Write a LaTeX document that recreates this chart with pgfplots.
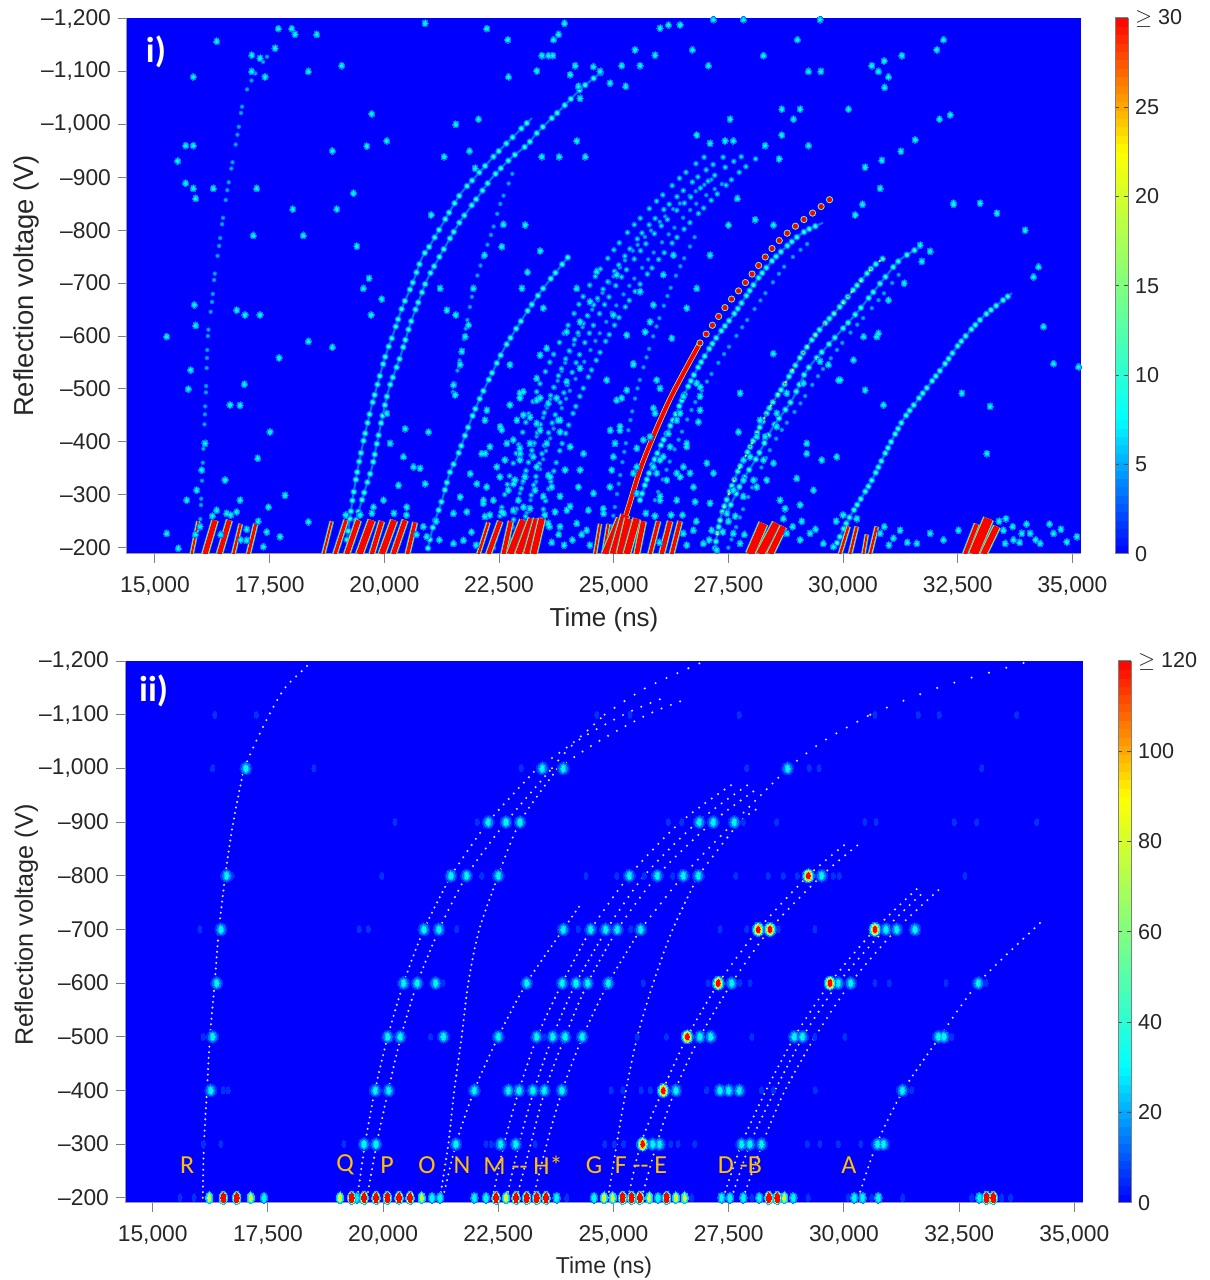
\documentclass[border=0pt]{standalone}
\usepackage{pgfplots}
\usepackage{pgfplotstable}
\usepackage{fontspec}
\setmainfont{Liberation Sans}
\newfontfamily\carl{Carlito}
\pgfplotsset{compat=1.18}
\definecolor{bgblue}{rgb}{0,0,1}
\definecolor{lab}{gray}{0.15}
\definecolor{orangelab}{RGB}{255,192,0}
\definecolor{cA}{RGB}{0,50,255}
\definecolor{cB}{RGB}{0,120,255}
\definecolor{cC}{RGB}{0,190,255}
\definecolor{cD}{RGB}{0,245,235}
\definecolor{cE}{RGB}{110,255,150}
\definecolor{cF}{RGB}{210,255,50}
\definecolor{cG}{RGB}{255,190,0}
\definecolor{cH}{RGB}{255,0,0}
\definecolor{dotw}{RGB}{225,225,242}
\pgfplotsset{
  colormap={refjet}{rgb255(0cm)=(0,0,255) rgb255(1cm)=(0,255,255) rgb255(3cm)=(255,255,0) rgb255(4cm)=(255,0,0)},
  panel/.style={
    scale only axis, y dir=reverse, axis on top=false,
    axis background/.style={fill=bgblue},
    axis x line*=bottom, axis y line*=left,
    axis line style={-,draw=gray!80,line width=0.5pt},
    tick align=outside, major tick length=4.5pt,
    tick style={draw=gray,line width=0.5pt},
    scaled x ticks=false, scaled y ticks=false,
    xtick={15000,17500,20000,22500,25000,27500,30000,32500,35000},
    xticklabels={{15,000},{17,500},{20,000},{22,500},{25,000},{27,500},{30,000},{32,500},{35,000}},
    ytick={-1200,-1100,-1000,-900,-800,-700,-600,-500,-400,-300,-200},
    yticklabels={{--1,200},{--1,100},{--1,000},{--900},{--800},{--700},{--600},{--500},{--400},{--300},{--200}},
    tick label style={font=\fontsize{11.4}{12}\selectfont,text=lab},
    colormap name=refjet, colorbar sampled, 
  },
  cbar/.style={
    scale only axis, width=6.5pt,
    axis line style={draw=gray,line width=0.5pt},
    tick align=inside, major tick length=2pt,
    tick style={draw=gray!60!black,line width=0.4pt},
    tick label style={font=\fontsize{10.8}{12}\selectfont,text=lab},
    yticklabel pos=right,
    samples=65
  },
  wd/.style={smooth,line cap=round,line width=1.15pt,color=dotw,dash pattern=on 0pt off #1},
  ch/.style n args={3}{smooth,line cap=round,line width=#2,color=#1,#3},
  patA/.style={dash pattern=on 0pt off 4.4pt on 0pt off 6.2pt on 0pt off 3.8pt on 0pt off 5.4pt},
  patB/.style={dash pattern=on 0pt off 4.4pt on 0pt off 6.6pt on 0pt off 5.2pt},
  patC/.style={dash pattern=on 0pt off 4pt on 0pt off 7pt on 0pt off 3.2pt on 0pt off 9pt on 0pt off 5pt},
  patD/.style={dash pattern=on 0pt off 3.4pt on 0pt off 4.4pt on 0pt off 3pt},
  patE/.style={dash pattern=on 0pt off 7pt},
  patF/.style={dash pattern=on 0pt off 9pt},
  patG/.style={dash pattern=on 0pt off 5.4pt},
}
\newcommand{\spot}[4]{\addplot[only marks,color=#4,mark=*,mark size=1pt,line width=0pt,mark options={xscale=#2,yscale=#3,fill=#4,draw=#4,line width=0pt}] table {#1};}
\newcommand{\chainfaint}[2]{%
  \addplot[ch={cB}{2.3pt}{#2}] table {#1};
  \addplot[ch={cC}{1.2pt}{#2}] table {#1};}
\newcommand{\chainweak}[2]{%
  \addplot[ch={cB}{2.9pt}{#2}] table {#1};
  \addplot[ch={cD}{1.6pt}{#2}] table {#1};}
\newcommand{\chainstrong}[2]{%
  \addplot[smooth,line width=1.0pt,color=cB] table {#1};
  \addplot[ch={cB}{3.4pt}{#2}] table {#1};
  \addplot[ch={cD}{2.2pt}{#2}] table {#1};
  \addplot[ch={cE}{1.0pt}{#2}] table {#1};}
\newcommand{\ionbar}[4]{%
  \addplot[line width=#4+1.4pt,color=cC] coordinates {(#1,-188)(#2,#3)};
  \addplot[line width=#4+0.6pt,color=cF] coordinates {(#1,-188)(#2,#3)};
  \addplot[line width=#4,color=cH] coordinates {(#1,-188)(#2,#3)};}

% ---------- panel i ridges (time ns, voltage V)
\pgfplotstableread{
t V
15981 -239
16090 -455
16112 -498
16155 -602
16243 -664
16308 -721
16395 -768
16461 -810
16570 -872
16679 -923
16809 -986
16940 -1050
17136 -1088
17354 -1118
17616 -1146
}\topR
\pgfplotstableread{
t V
19186 -215
19316 -296
19469 -370
19687 -455
20014 -559
20188 -602
20385 -653
20603 -697
20821 -748
20973 -768
21257 -810
21649 -867
22020 -904
22412 -942
22848 -980
23219 -1012
}\topQ
\pgfplotstableread{
t V
19382 -252
19578 -309
19731 -352
19840 -398
20079 -494
20341 -559
20559 -621
20777 -672
20951 -710
21322 -768
21649 -816
22041 -863
22347 -899
22783 -938
23110 -961
23349 -986
23785 -1023
24309 -1069
24745 -1099
}\topP
\pgfplotstableread{
t V
21496 -494
21693 -577
21932 -683
22150 -748
22347 -797
22521 -848
22695 -885
22804 -910
}\topO
\pgfplotstableread{
t V
20951 -199
21060 -239
21257 -290
21431 -343
21584 -371
21802 -422
22041 -474
22347 -530
22630 -579
23066 -640
23437 -687
24003 -749
}\topN
\pgfplotstableread{
t V
22378 -200
22623 -300
22949 -400
23346 -500
23888 -600
24505 -700
25342 -800
26458 -900
27000 -940
}\topM
\pgfplotstableread{
t V
22682 -200
22949 -300
23274 -400
23680 -500
24186 -600
24852 -700
25668 -800
26827 -900
27500 -945
}\topL
\pgfplotstableread{
t V
22800 -250
23100 -350
23480 -450
24000 -560
24600 -660
25400 -760
26300 -840
27200 -900
}\topK
\pgfplotstableread{
t V
23050 -250
23400 -350
23800 -450
24350 -550
25000 -650
25800 -750
26800 -850
27500 -895
}\topJ
\pgfplotstableread{
t V
22899 -200
23203 -300
23513 -400
23947 -500
24440 -600
25082 -700
25950 -800
27152 -900
27800 -940
}\topI
\pgfplotstableread{
t V
23259 -200
23550 -300
23888 -400
24331 -500
24887 -600
25590 -700
26514 -800
27621 -900
28100 -935
}\topH
\pgfplotstableread{
t V
24880 -200
25069 -300
25271 -400
25516 -500
25863 -600
26284 -700
26840 -800
}\topG
\pgfplotstableread{
t V
24963 -196
25181 -239
25355 -286
25573 -347
25856 -409
26271 -489
26881 -587
}\topFa
\pgfplotstableread{
t V
26881 -587
27470 -659
27862 -700
28516 -772
28996 -810
29453 -840
29780 -863
}\topFb
\pgfplotstableread{
t V
25573 -290
25856 -360
26292 -441
26728 -523
27208 -593
27644 -644
28124 -706
28516 -748
28996 -787
29214 -800
29562 -814
}\topE
\pgfplotstableread{
t V
25900 -290
26300 -380
26750 -470
27250 -545
27750 -610
28300 -680
28800 -740
29300 -780
}\topEb
\pgfplotstableread{
t V
27208 -199
27273 -233
27382 -271
27688 -341
27862 -371
28080 -409
28407 -466
28690 -504
29061 -559
29432 -606
29868 -649
30260 -691
30652 -731
30914 -749
}\topD
\pgfplotstableread{
t V
27470 -266
27818 -328
28124 -371
28472 -428
28887 -479
29214 -536
29780 -593
30300 -644
30870 -706
31241 -744
31677 -768
}\topC
\pgfplotstableread{
t V
27500 -200
27950 -300
28500 -400
29050 -470
29500 -530
30100 -600
30700 -660
31250 -720
}\topCb
\pgfplotstableread{
t V
29868 -209
30107 -252
30413 -296
30631 -328
30958 -385
31306 -441
31677 -485
32178 -542
32549 -587
33050 -636
33683 -681
}\topA
% ---------- panel i isolated spots
\pgfplotstableread{
t V
16345 -1157
19072 -1111
15836 -1090
19726 -1020
18868 -950
19617 -959
20053 -969
15495 -931
15669 -960
15836 -960
15669 -889
15836 -879
15887 -860
16272 -879
17218 -879
19326 -870
18003 -840
18962 -840
17145 -790
18235 -790
19399 -770
21020 -829
21303 -939
21856 -950
22234 -1181
22692 -1160
22707 -1090
23434 -1130
23579 -1130
23673 -1130
23688 -1160
23797 -1170
23928 -1191
24160 -1111
24051 -1094
22052 -1010
21558 -1000
20889 -1191
24379 -939
23811 -939
24197 -969
23434 -939
21980 -917
23324 -1101
17690 -1181
17981 -1181
18054 -1170
18526 -1170
18345 -1100
17109 -1131
17290 -1125
17399 -1090
17109 -1100
17618 -1144
15255 -599
15858 -659
16781 -649
16963 -640
17290 -640
15887 -620
18345 -590
18868 -579
17705 -559
15778 -536
15727 -500
16949 -509
16636 -470
16854 -469
19711 -640
19944 -670
19544 -690
19668 -709
21216 -690
21362 -649
21558 -640
21834 -621
21761 -599
21689 -571
21652 -546
21507 -508
21543 -489
23000 -690
23121 -721
22597 -811
23070 -810
23397 -761
22561 -769
22183 -753
21943 -690
25175 -1111
25466 -1141
25575 -1111
25902 -1131
26716 -1141
27065 -1111
28265 -1130
29006 -1160
29246 -1100
29515 -1100
30627 -1111
30772 -1100
30896 -1120
30991 -1090
30904 -1070
31282 -1130
32045 -1141
32190 -1160
30118 -1029
32336 -1018
32103 -1010
28664 -1029
28664 -980
28301 -960
28919 -1010
29064 -1029
29246 -960
28606 -935
30845 -932
30482 -919
31260 -949
31572 -971
30809 -879
30424 -849
32408 -849
30264 -829
31681 -772
31899 -760
31718 -741
31333 -700
30991 -668
30736 -599
30446 -599
29900 -517
29682 -546
28483 -810
28083 -820
27501 -810
27697 -860
26810 -980
27538 -1010
27101 -964
27428 -969
27610 -969
26193 -1188
26011 -1182
26447 -1188
27174 -1198
27828 -1198
29500 -1198
24230 -1072
24920 -1078
25262 -1072
24702 -1100
24557 -1109
24266 -1049
27101 -753
26810 -690
26592 -653
26302 -753
26083 -716
25865 -659
25793 -627
25429 -546
24848 -517
25284 -602
25684 -608
26265 -596
25175 -483
26011 -501
25865 -464
24846 -517
25428 -548
25937 -517
25064 -479
25137 -422
24992 -372
24919 -315
25428 -341
25901 -454
25937 -341
25792 -410
26082 -372
26010 -290
26191 -416
26446 -454
26591 -391
26664 -341
26373 -341
26882 -486
26882 -460
29208 -397
29863 -372
29208 -378
29536 -366
28990 -331
29354 -309
28736 -274
29063 -281
28481 -567
29935 -517
30226 -555
30771 -605
30481 -498
30880 -470
32589 -492
33207 -467
33134 -378
34588 -548
35133 -542
34370 -618
33970 -800
34152 -712
34261 -731
33352 -832
32988 -851
32407 -851
31898 -760
28191 -441
28554 -429
28772 -492
29136 -511
29499 -552
27973 -372
28118 -315
27827 -297
28336 -328
28627 -290
26519 -486
26809 -511
33498 -233
33716 -215
33898 -227
34079 -227
34297 -208
34588 -227
34879 -211
35097 -221
33534 -208
28772 -227
29063 -215
29281 -227
29572 -208
29790 -202
26519 -227
26737 -233
26955 -208
26591 -205
27136 -233
27246 -196
27609 -227
27754 -208
30808 -227
31099 -218
31244 -233
31608 -208
31898 -227
32189 -215
32516 -233
15509 -199
15255 -227
15982 -240
16345 -271
16563 -265
16781 -268
16999 -214
17363 -202
17436 -230
17727 -221
17836 -299
17472 -277
16854 -290
16527 -328
15691 -290
15909 -309
16018 -347
16091 -397
17508 -419
17240 -369
18345 -249
20925 -221
21507 -208
21725 -214
20417 -372
20635 -353
20780 -350
20308 -318
20489 -277
20889 -321
20962 -419
20453 -425
20053 -454
20126 -397
19980 -290
19762 -277
22198 -378
21871 -340
22161 -290
21652 -296
22016 -321
21798 -268
21507 -265
22452 -353
22670 -397
22961 -378
22888 -441
23325 -353
23615 -334
24052 -391
24342 -378
24560 -303
24924 -422
24779 -265
23979 -271
23034 -277
22816 -321
23397 -422
23833 -441
23179 -447
22525 -429
22234 -460
23539 -577
23975 -608
24266 -627
24484 -665
24993 -640
23321 -520
23030 -495
23757 -483
22739 -546
23975 -514
24266 -539
23394 -483
22957 -483
24629 -722
25066 -716
25575 -684
23466 -653
23394 -564
24193 -690
22957 -492
23321 -479
23575 -473
22739 -470
23030 -451
22194 -441
22558 -423
23321 -435
23793 -441
22812 -404
22303 -391
22121 -378
22957 -388
23176 -397
23539 -397
23830 -419
22630 -366
22957 -366
23248 -372
24048 -391
22521 -334
22848 -328
23066 -334
23575 -337
23939 -347
22230 -315
22703 -309
23285 -309
23648 -315
24266 -347
22376 -290
22921 -290
23176 -274
23466 -297
23830 -297
24230 -315
22558 -268
22812 -271
22158 -284
22194 -259
23721 -268
24048 -278
24448 -271
23575 -246
23830 -240
24193 -246
24411 -233
24775 -274
24993 -372
25029 -397
25138 -429
25284 -498
25502 -388
24957 -347
25502 -353
25647 -404
25502 -303
26011 -366
26229 -391
25865 -353
26374 -441
26592 -397
26156 -328
26447 -334
26011 -297
26374 -290
26738 -315
26520 -353
26883 -504
26847 -438
27029 -360
27101 -284
26774 -287
27174 -341
27756 -492
27719 -419
27828 -366
28119 -410
27610 -309
28046 -328
28265 -366
28483 -360
28555 -454
28301 -410
27828 -328
27465 -265
15880 -225
16250 -260
16430 -225
16650 -262
16870 -215
17000 -235
17250 -250
19160 -262
19470 -262
19730 -265
20210 -265
20480 -262
20700 -225
20850 -240
21130 -250
21200 -215
21900 -230
22000 -205
22300 -262
22600 -265
23500 -262
23600 -240
23650 -210
23800 -225
23920 -205
24100 -215
24300 -225
24480 -205
25700 -265
25900 -260
26000 -210
26250 -262
26500 -262
26800 -250
27080 -215
27380 -230
27500 -250
27650 -260
27850 -225
28700 -255
28900 -240
29100 -250
29400 -235
29850 -250
30000 -262
30300 -255
30900 -240
31000 -205
31400 -210
33400 -250
33550 -255
33700 -240
33850 -210
34000 -245
34200 -215
34500 -245
34750 -235
}\topSpecks
% ---------- panel ii spots
\pgfplotstableread{
t V
16533 -200
16823 -200
19318 -200
19586 -200
19846 -200
20092 -200
20345 -200
20584 -200
22450 -200
22884 -200
23116 -200
23333 -200
23535 -200
25198 -200
25393 -200
25574 -200
26153 -200
28373 -200
28554 -200
33096 -200
33241 -200
}\hotBase
\pgfplotstableread{
t V
16230 -200
17127 -200
19065 -200
20837 -200
22667 -200
24794 -200
24982 -200
25777 -200
26355 -200
26543 -200
28706 -200
}\midBase
\pgfplotstableread{
t V
17416 -200
19427 -200
21061 -200
21235 -200
21980 -200
22233 -200
23766 -200
24577 -200
25965 -200
27346 -200
27527 -200
27816 -200
28163 -200
28901 -200
30225 -200
30406 -200
30746 -200
32937 -200
}\cyanBase
\pgfplotstableread{
t V
15593 -200
15897 -200
23983 -200
26695 -200
28000 -200
29227 -200
30095 -200
30601 -200
31274 -200
32771 -200
33422 -200
33617 -200
}\faintBase
\pgfplotstableread{
t V
25632 -300
26080 -400
26601 -500
27274 -600
28142 -700
28396 -700
29228 -800
30674 -700
29698 -600
}\hotUp
\pgfplotstableread{
t V
19586 -300
19846 -300
21580 -300
22550 -300
22880 -300
25850 -300
26000 -300
27780 -300
27960 -300
28210 -300
30730 -300
30860 -300
16260 -400
19830 -400
20120 -400
21980 -400
22720 -400
22950 -400
23250 -400
23500 -400
23880 -400
26355 -400
27310 -400
27500 -400
27730 -400
31270 -400
16300 -500
20100 -500
20370 -500
21310 -500
22500 -500
23333 -500
23680 -500
23950 -500
24320 -500
26876 -500
27110 -500
28922 -500
29100 -500
32050 -500
32170 -500
16388 -600
20445 -600
20742 -600
21140 -600
23116 -600
23889 -600
24186 -600
24439 -600
24888 -600
27564 -600
29878 -600
30146 -600
32917 -600
16482 -700
20887 -700
21212 -700
23911 -700
24504 -700
24830 -700
25083 -700
25589 -700
30913 -700
31144 -700
31542 -700
16605 -800
21472 -800
21812 -800
22500 -800
25343 -800
25951 -800
26515 -800
26840 -800
29517 -800
22283 -900
22666 -900
22971 -900
26862 -900
27166 -900
27622 -900
17024 -1000
23456 -1000
23911 -1000
28779 -1000
}\midUp
\pgfplotstableread{
t V
16100 -300
16480 -300
19150 -300
22230 -300
22350 -300
23300 -300
24810 -300
25020 -300
25220 -300
26240 -300
26400 -300
26760 -300
28000 -300
29205 -300
29480 -300
29880 -300
30370 -300
16530 -400
16640 -400
24950 -400
25200 -400
25600 -400
25800 -400
27020 -400
28210 -400
28470 -400
29380 -400
31470 -400
16100 -500
21030 -500
23500 -500
25516 -500
26150 -500
26800 -500
28000 -500
29370 -500
30020 -500
32330 -500
32340 -500
21300 -600
25647 -600
27058 -600
27745 -600
27962 -600
30674 -600
30985 -600
32215 -600
33083 -600
16026 -700
19483 -700
19679 -700
21597 -700
24237 -700
25372 -700
27311 -700
27889 -700
28576 -700
29372 -700
16728 -800
19968 -800
22138 -800
24403 -800
25068 -800
25669 -800
26284 -800
27650 -800
28360 -800
28685 -800
28989 -800
29770 -800
29900 -800
32627 -800
20257 -900
22045 -900
26190 -900
26479 -900
27817 -900
28540 -900
30457 -900
30696 -900
32396 -900
32880 -900
34182 -900
16300 -1000
18500 -1000
23000 -1000
27889 -1000
29250 -1000
29459 -1000
32990 -1000
17250 -1100
16350 -1100
24635 -1100
25358 -1100
27730 -1100
30674 -1100
31615 -1100
32070 -1100
33748 -1100
}\faintUp

\begin{document}
\begin{tikzpicture}
\path[use as bounding box] (0,0) rectangle (605pt,640pt);
% ================= panel i
\begin{axis}[panel,
  name=ax1, at={(63.5pt,363.15pt)}, anchor=south west,
  width=477pt, height=267.85pt,
  xmin=14390, xmax=35187, ymin=-1201, ymax=-188.7,
  point meta min=0, point meta max=30,
  xticklabel style={yshift=-3.5pt},
  xlabel={Time (ns)}, ylabel={Reflection voltage (V)},
  every axis x label/.style={at={(axis description cs:0.5,-0.123)},anchor=center,font=\fontsize{13}{14}\selectfont,text=lab},
  every axis y label/.style={at={(axis description cs:-0.105,0.5)},anchor=center,rotate=90,font=\fontsize{13.7}{14}\selectfont,text=lab},
  colorbar,
  colorbar style={cbar, at={(ax1.north east)}, anchor=north west, xshift=8.5pt,
    height=267.85pt, ytick={0,5,10,15,20,25,30},
    yticklabels={0,5,10,15,20,25,{$\geq$ 30}}},
]
\spot{\topSpecks}{1.55}{1.75}{cB}
\spot{\topSpecks}{1.0}{1.15}{cC}
\spot{\topSpecks}{0.6}{0.7}{cD}
\chainfaint{\topR}{patC}
\chainstrong{\topQ}{patA}
\chainstrong{\topP}{patA}
\chainfaint{\topO}{patB}
\chainstrong{\topN}{patA}
\chainweak{\topM}{patB}
\chainfaint{\topK}{patA}
\chainweak{\topL}{patA}
\chainfaint{\topJ}{patB}
\chainweak{\topI}{patB}
\chainweak{\topH}{patA}
\chainfaint{\topG}{patB}
\chainfaint{\topEb}{patB}
\chainfaint{\topCb}{patB}
\chainstrong{\topE}{patD}
\chainstrong{\topD}{patD}
\chainstrong{\topC}{patA}
\chainstrong{\topA}{patD}
\addplot[ch={cF}{1.2pt}{patE}] table {\topD};
\addplot[ch={cH}{0.8pt}{patF}] table {\topD};
\addplot[smooth,line width=2.7pt,color=cF] table {\topFa};
\addplot[smooth,line width=2pt,color=cH] table {\topFa};
\addplot[ch={cE}{3.6pt}{patG}] table {\topFb};
\addplot[ch={cH}{2.6pt}{patG}] table {\topFb};
% slanted bright bars at the foot
\ionbar{15800}{15945}{-250}{1pt}
\ionbar{16091}{16309}{-252}{2.6pt}
\ionbar{16403}{16622}{-252}{2.4pt}
\ionbar{16709}{16869}{-245}{1.2pt}
\ionbar{17036}{17196}{-245}{1.5pt}
\ionbar{18672}{18853}{-250}{1pt}
\ionbar{18926}{19166}{-252}{1.7pt}
\ionbar{19181}{19435}{-252}{2.4pt}
\ionbar{19457}{19726}{-252}{3.2pt}
\ionbar{19726}{19944}{-250}{2.2pt}
\ionbar{19944}{20213}{-252}{3pt}
\ionbar{20198}{20453}{-252}{2.4pt}
\ionbar{20504}{20671}{-248}{1.8pt}
\ionbar{22052}{22270}{-248}{1.2pt}
\ionbar{22270}{22525}{-250}{2.2pt}
\ionbar{22597}{22757}{-250}{2pt}
\ionbar{22743}{23034}{-252}{3.4pt}
\ionbar{22925}{23215}{-255}{3.2pt}
\ionbar{23106}{23325}{-255}{3pt}
\ionbar{23252}{23434}{-255}{3pt}
\ionbar{24593}{24702}{-245}{1pt}
\ionbar{24775}{24884}{-245}{1pt}
\ionbar{24811}{25138}{-255}{3.2pt}
\ionbar{25000}{25250}{-262}{4pt}
\ionbar{25138}{25320}{-255}{3.4pt}
\ionbar{25284}{25502}{-255}{3.2pt}
\ionbar{25502}{25647}{-250}{2.4pt}
\ionbar{25793}{25974}{-250}{1.7pt}
\ionbar{26047}{26229}{-250}{2.2pt}
\ionbar{26265}{26447}{-250}{1.8pt}
\ionbar{27973}{28263}{-246}{4pt}
\ionbar{28191}{28554}{-246}{4pt}
\ionbar{28409}{28700}{-240}{3pt}
\ionbar{29935}{30117}{-240}{1.2pt}
\ionbar{30154}{30299}{-240}{1.2pt}
\ionbar{30444}{30517}{-225}{1pt}
\ionbar{30590}{30735}{-240}{1.2pt}
\ionbar{32662}{32916}{-245}{2pt}
\ionbar{32843}{33171}{-255}{4.5pt}
\ionbar{33061}{33352}{-240}{3pt}
\node[text=white,font=\bfseries\carl\fontsize{18}{20}\selectfont,anchor=center] at (axis cs:15022,-1137) {i)};
\end{axis}
% ================= panel ii
\begin{axis}[panel,
  name=ax2, at={(62.5pt,38.65pt)}, anchor=south west,
  width=479pt, height=270.85pt,
  xmin=14399, xmax=35188, ymin=-1200, ymax=-190.7,
  point meta min=0, point meta max=120,
  xticklabel style={yshift=-3.5pt},
  xlabel={Time (ns)}, ylabel={Reflection voltage (V)},
  every axis x label/.style={at={(axis description cs:0.5,-0.119)},anchor=center,font=\fontsize{11.5}{13}\selectfont,text=lab},
  every axis y label/.style={at={(axis description cs:-0.103,0.513)},anchor=center,rotate=90,font=\fontsize{12.6}{14}\selectfont,text=lab},
  colorbar,
  colorbar style={cbar, at={(ax2.north east)}, anchor=north west, xshift=9pt,
    height=270.85pt, ytick={0,20,40,60,80,100,120},
    yticklabels={0,20,40,60,80,100,{$\geq$ 120}}},
]
\spot{\faintUp}{1.0}{1.8}{cA}
\spot{\faintBase}{1.0}{1.9}{cA}
\spot{\midUp}{3.0}{3.2}{cA}
\spot{\midUp}{2.2}{2.7}{cB}
\spot{\midUp}{1.3}{2.0}{cC}
\spot{\midUp}{0.8}{1.5}{cD}
\spot{\cyanBase}{1.9}{2.8}{cB}
\spot{\cyanBase}{1.2}{2.3}{cC}
\spot{\cyanBase}{0.7}{1.7}{cD}
\spot{\midBase}{1.8}{3.0}{cC}
\spot{\midBase}{1.3}{2.5}{cD}
\spot{\midBase}{0.8}{1.9}{cF}
\spot{\hotBase}{2.1}{3.3}{cC}
\spot{\hotBase}{1.7}{3.0}{cD}
\spot{\hotBase}{1.4}{2.8}{cF}
\spot{\hotBase}{1.2}{2.6}{cH}
\spot{\hotUp}{3.0}{3.5}{cB}
\spot{\hotUp}{2.3}{3.1}{cD}
\spot{\hotUp}{1.7}{2.7}{cF}
\spot{\hotUp}{1.3}{2.3}{cG}
\spot{\hotUp}{0.9}{1.6}{cH}
% white dotted traces
\addplot[wd=2.8pt] coordinates {(16085,-200)(16113,-300)(16178,-400)(16243,-500)(16345,-600)(16439,-700)(16575,-800)(16749,-900)(16981,-1000)};
\addplot[wd=3.8pt] coordinates {(16981,-1000)(17242,-1050)(17530,-1100)(17871,-1150)(18342,-1190)(18413,-1200)};
\addplot[wd=2.9pt] coordinates {(19440,-200)(19607,-300)(19824,-400)(20100,-500)(20447,-600)(20887,-700)(21473,-800)};
\addplot[wd=3.7pt] coordinates {(21473,-800)(22283,-900)(23346,-1000)};
\addplot[wd=4.5pt] coordinates {(23346,-1000)(24157,-1050)(24808,-1100)};
\addplot[wd=6pt] coordinates {(24808,-1100)(25705,-1150)(26985,-1200)};
\addplot[wd=2.9pt] coordinates {(19650,-200)(19861,-300)(20113,-400)(20388,-500)(20742,-600)(21213,-700)};
\addplot[wd=3.6pt] coordinates {(21213,-700)(21814,-800)(22667,-900)(23665,-1000)};
\addplot[wd=5pt] coordinates {(23665,-1000)(24201,-1050)(25221,-1100)(26015,-1129)};
\addplot[wd=2.8pt] coordinates {(21234,-200)(21415,-300)(21545,-400)(21705,-500)(21849,-600)(22087,-700)(22500,-800)};
\addplot[wd=3.4pt] coordinates {(22500,-800)(22970,-900)(23789,-1000)};
\addplot[wd=5pt] coordinates {(23789,-1000)(24670,-1050)(25733,-1100)(26579,-1129)};
\addplot[wd=3pt] coordinates {(21300,-200)(21582,-300)(21979,-400)(22500,-500)(23116,-600)(23910,-700)(24309,-749)};
\addplot[wd=3pt] coordinates {(22378,-200)(22623,-300)(22949,-400)(23346,-500)(23888,-600)(24505,-700)};
\addplot[wd=3.9pt] coordinates {(24505,-700)(25342,-800)(26458,-900)(27556,-969)};
\addplot[wd=3pt] coordinates {(22682,-200)(22949,-300)(23274,-400)(23680,-500)(24186,-600)(24852,-700)};
\addplot[wd=3.9pt] coordinates {(24852,-700)(25668,-800)(26827,-900)(27912,-969)};
\addplot[wd=3pt] coordinates {(22899,-200)(23203,-300)(23513,-400)(23947,-500)(24440,-600)(25082,-700)};
\addplot[wd=3.9pt] coordinates {(25082,-700)(25950,-800)(27152,-900)(28070,-959)};
\addplot[wd=3pt] coordinates {(23259,-200)(23550,-300)(23888,-400)(24331,-500)(24887,-600)(25590,-700)};
\addplot[wd=4.1pt] coordinates {(25590,-700)(26514,-800)(27621,-900)(28780,-1000)};
\addplot[wd=6pt] coordinates {(28780,-1000)(29539,-1050)(30572,-1100)};
\addplot[wd=9pt] coordinates {(30572,-1100)(31998,-1149)(34053,-1200)};
\addplot[wd=3pt] coordinates {(24880,-200)(25069,-300)(25271,-400)(25516,-500)(25863,-600)(26284,-700)(26840,-800)};
\addplot[wd=4pt] coordinates {(26840,-800)(27744,-900)(28215,-929)};
\addplot[wd=3.2pt] coordinates {(25320,-200)(25590,-300)(26067,-400)(26601,-500)(27274,-600)};
\addplot[wd=3.9pt] coordinates {(27274,-600)(28142,-700)(29227,-800)(30038,-859)};
\addplot[wd=3.2pt] coordinates {(25611,-200)(25937,-300)(26334,-400)(26876,-500)(27564,-600)};
\addplot[wd=3.9pt] coordinates {(27564,-600)(28395,-700)(29517,-800)(30327,-859)};
\addplot[wd=3.1pt] coordinates {(27382,-200)(27781,-300)(28309,-400)(28923,-500)};
\addplot[wd=3.7pt] coordinates {(28923,-500)(29697,-600)(30674,-700)(31629,-779)};
\addplot[wd=3.1pt] coordinates {(27564,-200)(27961,-300)(28504,-400)(29105,-500)};
\addplot[wd=3.7pt] coordinates {(29105,-500)(29878,-600)(30891,-700)(31722,-769)};
\addplot[wd=3.1pt] coordinates {(27816,-200)(28228,-300)(28721,-400)(29372,-500)};
\addplot[wd=3.7pt] coordinates {(29372,-500)(30147,-600)(31145,-700)(32128,-779)};
\addplot[wd=3.2pt] coordinates {(30312,-200)(30711,-300)(31288,-400)(32084,-500)};
\addplot[wd=3.8pt] coordinates {(32084,-500)(32916,-600)(34109,-700)(34348,-719)};
\node[text=white,font=\bfseries\carl\fontsize{18}{20}\selectfont,anchor=center] at (axis cs:15020,-1145) {ii)};
\node[text=orangelab,font=\carl\fontsize{13}{15}\selectfont,anchor=center] at (axis cs:15746,-261) {R};
\node[text=orangelab,font=\carl\fontsize{13}{15}\selectfont,anchor=center] at (axis cs:19173,-261) {Q};
\node[text=orangelab,font=\carl\fontsize{13}{15}\selectfont,anchor=center] at (axis cs:20084,-261) {P};
\node[text=orangelab,font=\carl\fontsize{13}{15}\selectfont,anchor=center] at (axis cs:20952,-261) {O};
\node[text=orangelab,font=\carl\fontsize{13}{15}\selectfont,anchor=center] at (axis cs:21712,-261) {N};
\node[text=orangelab,font=\carl\fontsize{13}{15}\selectfont,anchor=center] at (axis cs:23036,-261) {M -- H*};
\node[text=orangelab,font=\carl\fontsize{13}{15}\selectfont,anchor=center] at (axis cs:24576,-261) {G};
\node[text=orangelab,font=\carl\fontsize{13}{15}\selectfont,anchor=center] at (axis cs:25596,-261) {F -- E};
\node[text=orangelab,font=\carl\fontsize{13}{15}\selectfont,anchor=center] at (axis cs:27744,-261) {D -B};
\node[text=orangelab,font=\carl\fontsize{13}{15}\selectfont,anchor=center] at (axis cs:30110,-261) {A};
\end{axis}
\end{tikzpicture}
\end{document}
